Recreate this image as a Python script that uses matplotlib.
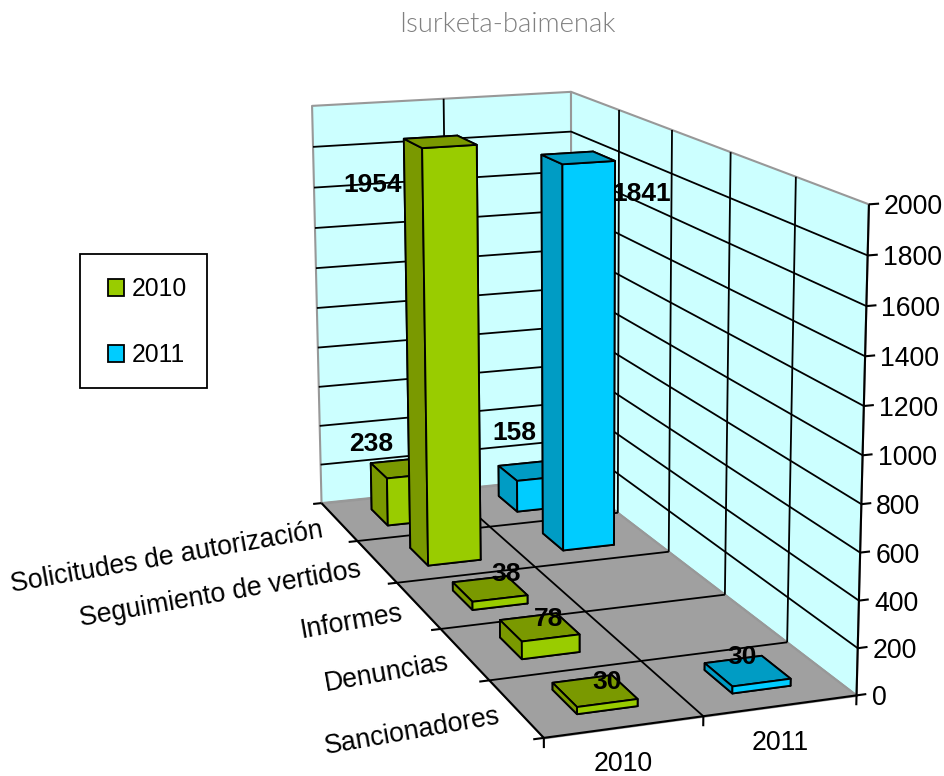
import numpy as np
import matplotlib
matplotlib.use("Agg")
import matplotlib.pyplot as plt
from matplotlib.patches import Patch, Rectangle
from mpl_toolkits.mplot3d.art3d import Poly3DCollection, Line3DCollection

plt.rcParams["font.family"] = ["Liberation Sans", "DejaVu Sans"]

TITLE = "Isurketa-baimenak"
CATEGORIES = ["Solicitudes de autorización", "Seguimiento de vertidos", "Informes", "Denuncias", "Sancionadores"]
SERIES = ["2010", "2011"]
V2010 = [238, 1954, 38, 78, 30]
V2011 = [158, 1841, 0, 0, 30]
Z_TICKS = list(range(0, 2001, 200))

FRONT = {"2010": "#99CC00", "2011": "#00CCFF"}
DARK = {"2010": "#7A9900", "2011": "#009CC4"}
WALL, FLOOR, EDGE = "#CCFFFF", "#A0A0A0", "#989898"

# label nudges in pixels from the bar top, same order as the values
OFF2010 = [(-32, -24), (-67, 43), (17, -15), (10, -8), (13, -9)]
OFF2011 = [(-17, -38), (64, 36), (0, 0), (0, 0), (-5, -14)]

NX, NY, ZMAX = len(SERIES), len(CATEGORIES), Z_TICKS[-1]

# camera: frame corners of the reference -> pixels (plain DLT)
calib = [((0, 0, 0), (544, 738)), ((NX, 0, 0), (857, 696)), ((0, NY, 0), (321, 503)),
         ((NX, NY, 0), (572, 477)), ((0, NY, ZMAX), (312, 106)), ((NX, NY, ZMAX), (571, 92)),
         ((NX, 0, ZMAX), (869, 204)), ((1, 0, 0), (703, 716)), ((0, 1, 0), (490, 680)),
         ((0, 3, 0), (397, 583)), ((NX, 1, 0), (786, 642)), ((NX, 2, 0), (725, 595))]
A = []
for (x, y, z), (u, v) in calib:
    z = z / 1000
    A.append([x, y, z, 1, 0, 0, 0, 0, -u*x, -u*y, -u*z, -u])
    A.append([0, 0, 0, 0, x, y, z, 1, -v*x, -v*y, -v*z, -v])
P = np.linalg.svd(np.array(A, float))[2][-1].reshape(3, 4)
P[:, 2] /= 1000
P /= P[2, 3]

fig = plt.figure(figsize=(9.44, 7.76), dpi=100)
ax = fig.add_axes([0, 0, 1, 1], projection="3d", computed_zorder=False)
ax.set_axis_off()
ax.patch.set_visible(False)
M = np.vstack([P[0], P[1], 2*P[2] - [0, 0, 0, 1], P[2]])
ax.get_proj = lambda: M
ax.apply_aspect = lambda position=None: None
ax.viewLim.intervalx = (0, 944)
ax.viewLim.intervaly = (776, 0)

def project(x, y, z):
    h = P @ [x, y, z, 1]
    return h[0]/h[2], h[1]/h[2]

def line(xs, ys, zs, color="black", lw=1.3, zo=3):
    seg = list(zip(xs, ys, zs))
    ax.add_collection3d(Line3DCollection([seg], colors=color, linewidths=lw, zorder=zo), autolim=False)

def label(x, y, z, s, dx=0, dy=0, **kw):
    px, py = project(x, y, z)
    kw.setdefault("fontsize", 19.2)
    kw.setdefault("zorder", 30)
    ax.annotate(s, (px + dx, py + dy), annotation_clip=False, **kw)

# walls and floor
back = [(0, NY, 0), (NX, NY, 0), (NX, NY, ZMAX), (0, NY, ZMAX)]
right = [(NX, 0, 0), (NX, NY, 0), (NX, NY, ZMAX), (NX, 0, ZMAX)]
floor = [(0, 0, 0), (NX, 0, 0), (NX, NY, 0), (0, NY, 0)]
ax.add_collection3d(Poly3DCollection([back, right], facecolor=WALL, edgecolor=EDGE, linewidth=1.5, zorder=1), autolim=False)
ax.add_collection3d(Poly3DCollection([floor], facecolor=FLOOR, edgecolor=EDGE, linewidth=1.5, zorder=2), autolim=False)

# grid
for t in Z_TICKS[1:-1]:
    line([0, NX, NX], [NY, NY, 0], [t, t, t])
for i in range(1, NX):
    line([i, i], [NY, NY], [0, ZMAX])
    line([i, i], [0, NY], [0, 0])
for i in range(1, NY):
    line([NX, NX], [i, i], [0, ZMAX])
    line([0, NX], [i, i], [0, 0])

# axis lines and ticks
line([0, 0], [0, NY], [0, 0], lw=1.5)
line([0, NX], [0, 0], [0, 0], lw=1.5)
line([NX, NX], [0, 0], [0, ZMAX], lw=1.5)
for t in Z_TICKS:
    line([NX, NX + 0.065], [0, 0], [t, t], lw=1.5)
    label(NX, 0, t, str(t), dx=15, dy=3, ha="left", va="center")
for i in range(NX + 1):
    line([i, i], [0, 0], [0, -42], lw=1.5)
for i in range(NY + 1):
    line([-0.065, 0], [i, i], [0, 0], lw=1.5)
for i, s in enumerate(SERIES):
    label(i + 0.5, 0, 0, s, dx=-1, dy=37.5, ha="center", va="center")
for i, c in enumerate(CATEGORIES):
    label(0, NY - 0.5 - i, 0, c, dx=-16, dy=8, ha="right", va="center", rotation=10, rotation_mode="anchor")

# bars, back row first
for i in range(NY):
    for j, (s, vals, offs) in enumerate(zip(SERIES, [V2010, V2011], [OFF2010, OFF2011])):
        v = vals[i]
        if v == 0:
            continue
        y0 = NY - 1 - i + 0.285
        zb = 10 + 2*i
        # faces: bottom, top, front, back, left, right
        cols = [DARK[s], DARK[s], FRONT[s], FRONT[s], DARK[s], FRONT[s]]
        ax.bar3d(j + 0.31, y0, 0, 0.385, 0.43, v, color=cols, shade=False, edgecolor="black",
                 linewidth=1.35, zorder=zb)
        label(j + 0.5, y0 + 0.215, v, str(v), dx=offs[i][0], dy=offs[i][1], ha="center", va="center",
              fontsize=19, fontweight="bold", zorder=zb - 0.5 if v > 1000 else zb + 0.5)

# legend box is a separate rectangle so its margins can follow the reference
fig.add_artist(Rectangle((80/944, 1 - 388/776), 127/944, 134/776, transform=fig.transFigure,
                         facecolor="white", edgecolor="black", linewidth=1.3, zorder=1))
handles = [Patch(facecolor=FRONT[s], edgecolor="black", linewidth=1.3, label=s) for s in SERIES]
leg = fig.legend(handles=handles, loc="upper left", bbox_to_anchor=(108/944, 1 - 277/776),
                 borderaxespad=0, fontsize=17.8, frameon=False, borderpad=0, labelspacing=1.7,
                 handlelength=0.65, handleheight=0.65, handletextpad=0.3)
leg.set_zorder(2)

fig.text(507/944, 1 - 25/776, TITLE, ha="center", va="center", fontsize=19.8, color="#808080",
         family=["Lato", "DejaVu Sans"], fontweight=300)

fig.savefig("out.png", dpi=100)
